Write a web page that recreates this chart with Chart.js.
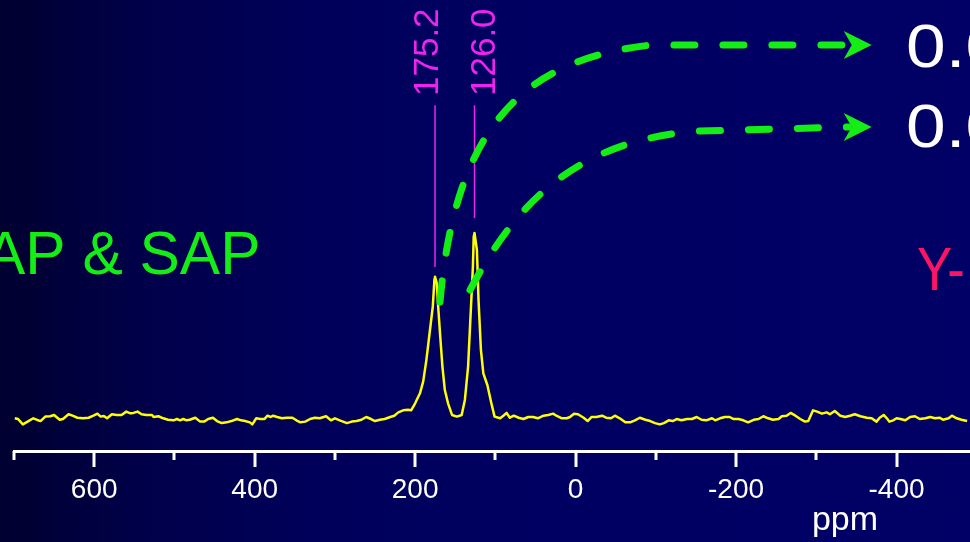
<!DOCTYPE html>
<html>
<head>
<meta charset="utf-8">
<script src="https://cdn.jsdelivr.net/npm/chart.js@4.4.1/dist/chart.umd.min.js"></script>
<style>
  html, body { margin: 0; padding: 0; overflow: hidden; }
  body {
    width: 970px; height: 542px;
    background: linear-gradient(to right, #000030 0%, #00004a 15%, #00005a 32%, #000062 55%, #000066 100%);
  }
  #wrap { position: relative; width: 970px; height: 542px; }
</style>
</head>
<body>
<div id="wrap"><canvas id="nmr"></canvas></div>
<script>
(function(){
    "use strict";

    // chemical shift (ppm) and signal intensity of the spectrum trace
    const shiftPpm = [
        699, 695, 689, 682, 676, 671, 667, 661, 655, 650, 646, 643, 639, 632, 627, 621, 614, 607, 601, 596,
        592, 588, 584, 578, 572, 566, 560, 555, 551, 546, 541, 535, 528, 526, 520, 514, 508, 501, 497, 493,
        489, 485, 481, 474, 468, 463, 458, 452, 447, 441, 435, 429, 422, 417, 412, 406, 403, 398, 393, 388,
        384, 380, 377, 372, 366, 360, 353, 348, 343, 337, 331, 325, 319, 311, 305, 300, 294, 285, 279, 273,
        267, 261, 255, 250, 244, 238, 231, 226, 221, 215, 209, 205, 200, 194, 190, 186, 182, 178, 176, 175.2,
        173, 171, 169, 166, 163, 159, 154, 148, 142, 138, 134, 131, 128, 127, 126.0, 123, 121, 118, 115, 110,
        105, 101, 94, 90, 86, 82, 77, 71, 65, 59, 53, 47, 40, 34, 28, 24, 17, 11, 7, 2,
        -3, -10, -15, -20, -26, -33, -38, -44, -49, -55, -62, -68, -74, -80, -87, -93, -99, -105, -110, -116,
        -121, -126, -132, -139, -145, -151, -157, -163, -170, -174, -180, -186, -192, -197, -203, -209, -215, -222, -228, -234,
        -240, -246, -253, -257, -263, -268, -274, -280, -286, -290, -296, -301, -307, -313, -317, -323, -330, -336, -342, -348,
        -355, -363, -369, -375, -379, -384, -388, -391, -396, -400, -405, -411, -417, -423, -429, -436, -442, -448, -454, -458,
        -465, -469, -475, -481, -488
    ];
    const intensity = [
        -0.3, -0.7, -3.6, -1.8, -0.3, -1.2, -1.8, 0.6, 0.8, 1.5, 0.0, -1.1, -0.7, 1.9, 1.1, 0.0, -0.3, 0.0, 1.1, 2.2,
        0.6, 0.9, -0.3, 1.9, 1.5, 1.5, 3.3, 2.4, 2.6, 3.3, 1.9, 1.5, 1.5, 0.4, 0.8, -0.3, -1.1, -1.4, -0.7, -1.4,
        -0.7, -1.4, -1.1, 0.0, -2.1, -2.1, -0.7, 0.0, -1.8, -2.9, -2.5, -1.8, -0.7, -1.4, -1.8, -2.5, -3.6, -0.3, -0.7, -0.7,
        1.1, 0.4, 1.1, 0.4, -0.3, 0.0, 0.0, -1.4, -2.5, -2.1, -0.7, 0.0, -0.3, 0.8, -1.4, -0.3, -1.4, -2.9, -2.1, -1.8,
        -1.1, 0.4, -0.7, -1.8, -1.1, -0.7, 0.4, 1.1, 2.9, 4.0, 4.3, 4.0, 7.8, 13.2, 19.5, 31.2, 45.7, 60.1, 74.5, 76.3,
        72.7, 58.3, 45.7, 27.6, 15.0, 7.8, 1.5, 0.6, 1.5, 9.6, 27.6, 54.7, 81.7, 97.9, 100, 90.7, 63.7, 36.6, 24.0, 17.7,
        7.8, 0.6, -0.3, 1.1, 2.6, 0.0, 1.1, 0.0, -0.7, 0.4, 0.4, -0.3, 1.1, 1.5, 2.2, 1.1, -0.3, -0.3, 0.4, 2.2,
        1.9, 0.0, -1.8, 0.4, 0.4, 1.1, 0.0, -0.3, 1.1, -0.3, -2.5, -2.5, -1.4, 0.0, -1.1, -1.8, -2.9, -3.6, -2.9, -1.4,
        -1.8, -0.7, -1.4, -0.7, -0.7, 0.4, -1.1, -1.4, -0.3, -1.4, -0.3, 0.4, 0.4, -0.7, -0.7, -1.4, -2.5, -1.1, -0.7, 0.8,
        -0.3, -1.1, -0.7, 0.8, 1.1, 2.6, 1.1, -0.7, -2.1, -1.8, 4.0, 3.3, 2.2, 2.9, 1.9, 3.6, 1.1, 0.4, 1.1, 1.9,
        0.8, 0.0, -0.3, -2.1, 0.0, 1.5, -0.3, -2.1, -1.4, -0.3, -0.7, -1.4, 0.4, 0.8, -0.7, -0.3, 0.4, -0.3, 0.0, -1.1,
        -0.3, 1.1, -0.3, -1.1, -1.8
    ];

    // labelled peak positions
    const peakShifts = [175.2, 126.0];

    // axis ticks every 100 ppm, numbers only on the 200 ppm ones
    const tickValues = [700, 600, 500, 400, 300, 200, 100, 0, -100, -200, -300, -400];
    const tickLabels = ['', '600', '', '400', '', '200', '', '0', '', '-200', '', '-400'];
    const axisTitle = 'ppm';

    const FONT = "'Liberation Sans', Arial, sans-serif";
    const GREEN = '#14ee14';
    const MAGENTA = '#f022f0';

    // peak marker lines (intensity units) and label offsets in px
    const markerTop = 169;
    const markerBottom = [81.5, 108];
    const labelShift = [-7, 10.5];

    // dashed arrows: start, two bezier controls, bend end, shaft end, tip  ([ppm, intensity])
    const arrowPaths = [
        [[169.0, 62.6], [150.3, 155.7], [69.3, 193.5], [-92.7, 201.6], [-340, 201.6], [-369.1, 201.6]],
        [[131.6, 69.1], [88.0, 104.3], [19.4, 150.3], [-155.1, 155.1], [-340, 157.3], [-369.1, 157.3]]
    ];

    function drawArrow(ctx, xs, ys, path) {
        const p = path.map(([a, b]) => [xs.getPixelForValue(a), ys.getPixelForValue(b)]);
        ctx.save();
        ctx.beginPath();
        ctx.moveTo(p[0][0], p[0][1]);
        ctx.bezierCurveTo(p[1][0], p[1][1], p[2][0], p[2][1], p[3][0], p[3][1]);
        ctx.lineTo(p[4][0], p[4][1]);
        ctx.setLineDash([21, 28]);
        ctx.lineWidth = 7;
        ctx.lineCap = 'round';
        ctx.strokeStyle = GREEN;
        ctx.stroke();
        const [tx, ty] = p[5];
        const ang = Math.atan2(ty - p[4][1], tx - p[4][0]);
        const pt = (dx, dy) => [tx + dx * Math.cos(ang) - dy * Math.sin(ang), ty + dx * Math.sin(ang) + dy * Math.cos(ang)];
        ctx.setLineDash([]);
        ctx.beginPath();
        ctx.moveTo(tx, ty);
        ctx.lineTo(...pt(-28, -14));
        ctx.lineTo(...pt(-20, 0));
        ctx.lineTo(...pt(-28, 14));
        ctx.closePath();
        ctx.fillStyle = GREEN;
        ctx.fill();
        ctx.restore();
    }

    const overlay = {
        id: 'overlay',
        afterDraw(chart) {
            const { ctx } = chart;
            const xs = chart.scales.x, ys = chart.scales.y;

            // tick marks below the axis line, long where a number sits
            ctx.save();
            ctx.strokeStyle = '#ffffff';
            ctx.lineWidth = 3;
            tickValues.forEach((v, i) => {
                const px = Math.round(xs.getPixelForValue(v));
                const len = tickLabels[i] ? 16 : 9;
                ctx.beginPath();
                ctx.moveTo(px, xs.top);
                ctx.lineTo(px, xs.top + len);
                ctx.stroke();
            });
            ctx.fillStyle = '#ffffff';
            ctx.font = '34px ' + FONT;
            ctx.textAlign = 'center';
            ctx.textBaseline = 'alphabetic';
            ctx.fillText(axisTitle, 845, 530);
            ctx.restore();

            // peak markers with rotated shift labels
            ctx.save();
            ctx.strokeStyle = MAGENTA;
            ctx.fillStyle = MAGENTA;
            ctx.lineWidth = 1.5;
            ctx.font = '35px ' + FONT;
            peakShifts.forEach((s, i) => {
                const px = xs.getPixelForValue(s);
                ctx.beginPath();
                ctx.moveTo(px, ys.getPixelForValue(markerTop));
                ctx.lineTo(px, ys.getPixelForValue(markerBottom[i]));
                ctx.stroke();
                ctx.save();
                ctx.translate(px + labelShift[i], 96);
                ctx.rotate(-Math.PI / 2);
                ctx.textAlign = 'left';
                ctx.textBaseline = 'middle';
                ctx.fillText(s.toFixed(1), 0, 0);
                ctx.restore();
            });
            ctx.restore();

            arrowPaths.forEach(path => drawArrow(ctx, xs, ys, path));

            // slide captions around the spectrum
            ctx.save();
            ctx.textBaseline = 'alphabetic';
            ctx.textAlign = 'left';
            ctx.font = '62px ' + FONT;
            ctx.fillStyle = GREEN;
            ctx.save();
            ctx.translate(-15, 274);
            ctx.scale(0.975, 1);
            ctx.fillText('AP & SAP', 0, 0);
            ctx.restore();

            ctx.fillStyle = '#ff1464';
            ctx.save();
            ctx.translate(917, 290);
            ctx.scale(0.85, 1);
            ctx.fillText('Y-', 0, 0);
            ctx.restore();

            ctx.fillStyle = '#ffffff';
            [67, 147].forEach(base => {
                ctx.save();
                ctx.translate(906, base);
                ctx.scale(1.15, 1);
                ctx.fillText('0.0', 0, 0);
                ctx.restore();
            });
            ctx.restore();
        }
    };

    const points = shiftPpm.map((s, i) => ({ x: s, y: intensity[i] }));

    new Chart(document.getElementById('nmr'), {
        type: 'line',
        data: {
            datasets: [{
                data: points,
                borderColor: '#ffff00',
                borderWidth: 2.5,
                borderJoinStyle: 'round',
                pointRadius: 0,
                tension: 0,
                fill: false
            }]
        },
        options: {
            responsive: true,
            maintainAspectRatio: false,
            animation: false,
            layout: { padding: { left: 14, right: 0, top: 0, bottom: 0 } },
            plugins: { legend: { display: false }, tooltip: { enabled: false } },
            scales: {
                x: {
                    type: 'linear',
                    reverse: true,
                    min: -491.6,
                    max: 700,
                    afterBuildTicks: s => { s.ticks = tickValues.map(v => ({ value: v })); },
                    afterFit: s => { s.height = 91; },
                    grid: { display: false, drawTicks: true, tickLength: 16 },
                    border: { display: true, color: '#ffffff', width: 3 },
                    ticks: {
                        autoSkip: false,
                        maxRotation: 0,
                        padding: 6,
                        color: '#ffffff',
                        font: { family: FONT, size: 28 },
                        callback: (v, i) => tickLabels[i]
                    }
                },
                y: { display: false, min: -18, max: 226 }
            }
        },
        plugins: [overlay]
    });
})();
</script>
</body>
</html>
